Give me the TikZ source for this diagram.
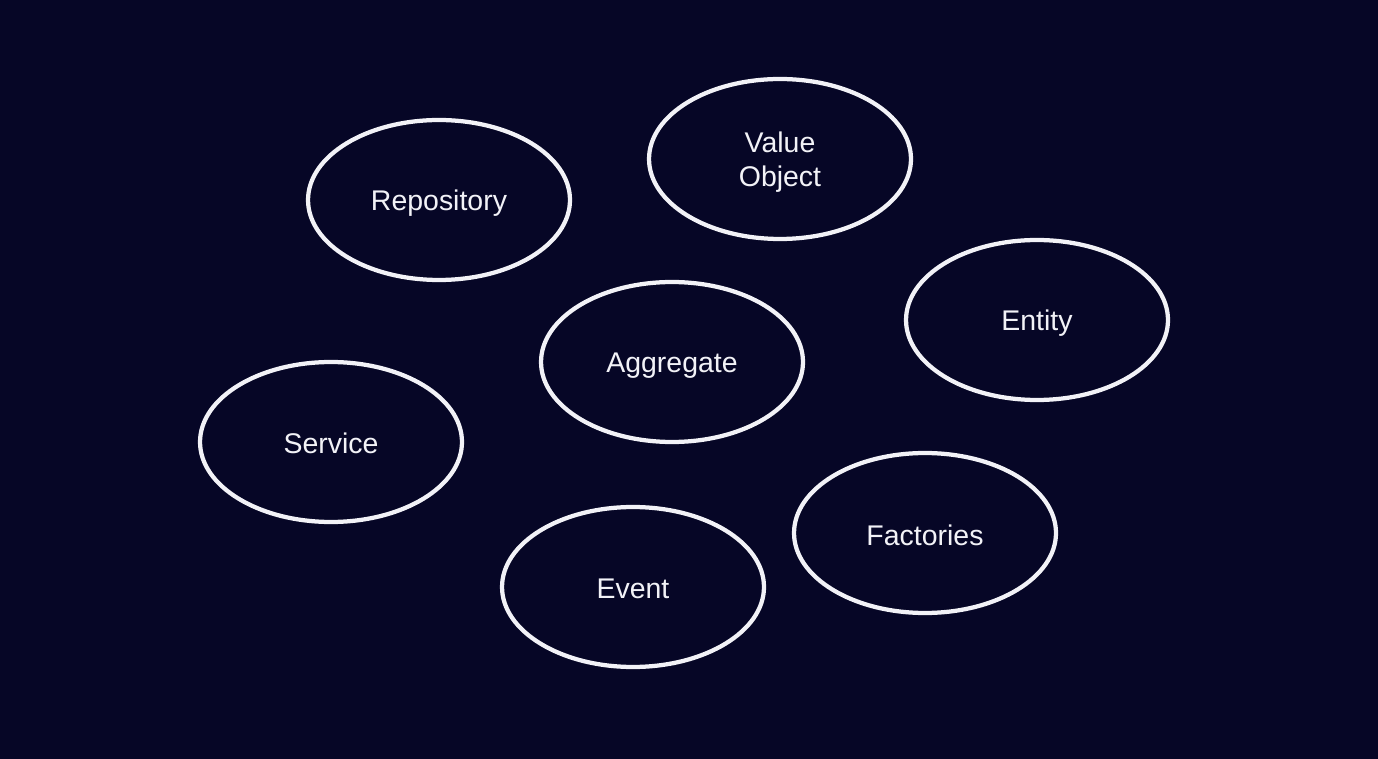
\documentclass[tikz,border=0pt]{standalone}
\usepackage{fontspec}
\setmainfont{Liberation Sans}
\usetikzlibrary{shapes.geometric}
\definecolor{bgnavy}{HTML}{060626}
\definecolor{inkwhite}{HTML}{F2F2F7}
\begin{document}
\begin{tikzpicture}[x=0.02cm,y=-0.02cm,
  concept/.style={ellipse, draw=inkwhite, line width=0.085cm, inner sep=0pt,
    minimum width=5.24cm, minimum height=3.2cm},
  conceptlabel/.style={text=inkwhite, align=center, inner sep=0pt,
    font=\fontsize{16.2pt}{19.3pt}\selectfont}]
  % background
  \fill[bgnavy] (0,0) rectangle (1378,759);
  \useasboundingbox (0,0) rectangle (1378,759);
  % domain-driven design building blocks
  \node[concept] (repo) at (439,200) {};
  \node[concept] (vo) at (780,159) {};
  \node[concept] (entity) at (1037,320) {};
  \node[concept] (agg) at (672,362) {};
  \node[concept] (service) at (331,442) {};
  \node[concept] (fact) at (925,533) {};
  \node[concept] (event) at (633,587) {};
  % their names, set a little below centre
  \node[conceptlabel] (repo-t) at ([yshift=-0.07cm]repo.center) {Repository};
  \node[conceptlabel] (vo-t) at ([yshift=-0.07cm]vo.center) {Value\\Object};
  \node[conceptlabel] (entity-t) at ([yshift=-0.07cm]entity.center) {Entity};
  \node[conceptlabel] (agg-t) at ([yshift=-0.07cm]agg.center) {Aggregate};
  \node[conceptlabel] (service-t) at ([yshift=-0.02cm]service.center) {Service};
  \node[conceptlabel] (fact-t) at ([yshift=-0.04cm]fact.center) {Factories};
  \node[conceptlabel] (event-t) at ([yshift=-0.04cm]event.center) {Event};
\end{tikzpicture}
\end{document}
